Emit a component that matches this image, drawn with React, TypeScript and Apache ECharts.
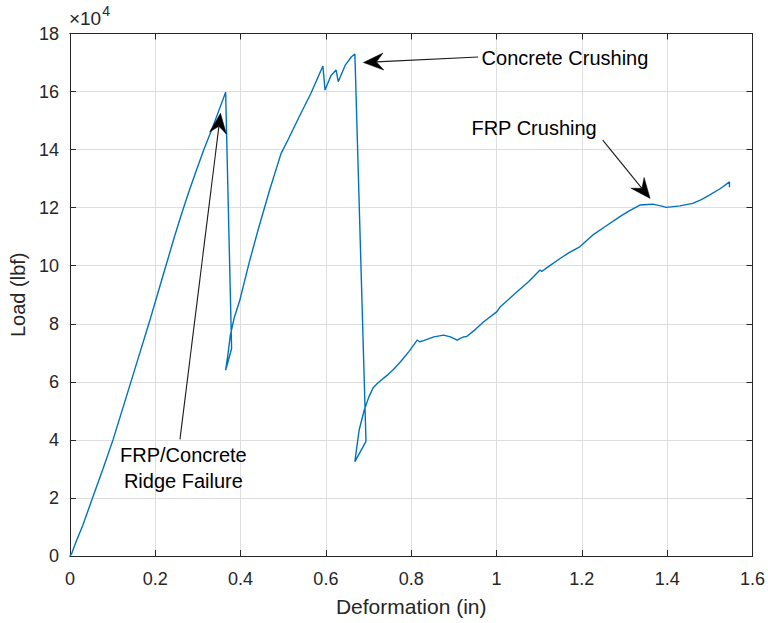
import React, { useEffect, useRef } from "react";
import * as echarts from "echarts";

// Load–deformation record of the specimen
const deformation = [
  0, 0.004, 0.013, 0.03, 0.054, 0.078, 0.101, 0.122, 0.143, 0.165, 0.186, 0.206, 0.226, 0.245,
  0.262, 0.28, 0.298, 0.314, 0.33, 0.348, 0.365,
  0.379, 0.365, 0.37, 0.376, 0.385, 0.398, 0.42, 0.441, 0.468, 0.495, 0.511, 0.538, 0.565,
  0.593, 0.598, 0.612, 0.624, 0.629, 0.645, 0.66, 0.668,
  0.694, 0.668, 0.672, 0.678, 0.69, 0.701, 0.711, 0.721, 0.744, 0.76, 0.775, 0.795, 0.814,
  0.82, 0.829, 0.853, 0.876, 0.892, 0.908, 0.915, 0.923, 0.93, 0.95, 0.97, 1.001, 1.009,
  1.048, 1.075, 1.095, 1.102, 1.106, 1.12, 1.149, 1.17, 1.195, 1.226, 1.255, 1.289, 1.31,
  1.336, 1.366, 1.385, 1.398, 1.43, 1.46, 1.48, 1.499, 1.525, 1.546, 1.546,
];
const loadLbf = [
  0, 800, 4400, 10500, 20400, 30200, 40000, 50000, 60000, 70500, 80500, 90500, 100500, 110000,
  118000, 126000, 133500, 140000, 146000, 153000, 159800,
  71500, 64000, 69000, 76000, 82000, 88000, 101000, 112300, 126000, 138700, 143300, 151500, 159400,
  168800, 160500, 165500, 167400, 163400, 169000, 172000, 172900,
  39500, 32500, 37000, 43400, 50300, 54900, 58000, 59500, 62300, 64500, 66900, 70500, 74400,
  73800, 74200, 75500, 76100, 75500, 74400, 75000, 75500, 75600, 78000, 80700, 84200, 85900,
  91000, 94500, 97500, 98500, 98000, 99500, 102500, 104500, 106500, 110600, 113500, 116900, 118800,
  120900, 121200, 120600, 120100, 120600, 121500, 122800, 124300, 126600, 128900, 127000,
];

const xTicks = { min: 0, max: 1.6, interval: 0.2 };
const yTicks = { min: 0, max: 180000, interval: 20000 };

// Callouts: text anchor, arrow tail and arrow tip, all in data units
const callouts = [
  {
    text: "Concrete Crushing",
    at: [0.965, 171500],
    align: "left",
    tail: [0.957, 171900],
    tip: [0.688, 170000],
  },
  {
    text: "FRP Crushing",
    at: [1.088, 147400],
    align: "center",
    tail: [1.249, 143300],
    tip: [1.36, 123200],
  },
  {
    text: "FRP/Concrete\nRidge Failure",
    at: [0.266, 30300],
    align: "center",
    tail: [0.258, 40200],
    tip: [0.353, 152500],
  },
];

const FONT = "'Liberation Sans', Arial, Helvetica, sans-serif";
const AXIS_COLOR = "#262626";
const LINE_COLOR = "#0072BD";

export default function App() {
  const ref = useRef<HTMLDivElement>(null);

  useEffect(() => {
    if (!ref.current) return;
    const chart = echarts.init(ref.current, undefined, { renderer: "svg" });
    const points = deformation.map((d, i) => [d, loadLbf[i]]);

    const fmtX = (v: number) => String(Math.round(v * 10) / 10);
    const fmtY = (v: number) => String(Math.round(v / 10000));

    const baseX = {
      type: "value",
      ...xTicks,
      axisLine: { show: true, onZero: false, lineStyle: { color: AXIS_COLOR, width: 1 } },
      axisTick: { show: true, inside: true, length: 6, lineStyle: { color: AXIS_COLOR } },
    };
    const baseY = {
      type: "value",
      ...yTicks,
      axisLine: { show: true, onZero: false, lineStyle: { color: AXIS_COLOR, width: 1 } },
      axisTick: { show: true, inside: true, length: 6, lineStyle: { color: AXIS_COLOR } },
    };

    chart.setOption({
      animation: false,
      backgroundColor: "#ffffff",
      textStyle: { fontFamily: FONT },
      grid: { left: 67.7, right: 15.5, top: 33.5, bottom: 67, containLabel: false },
      xAxis: [
        {
          ...baseX,
          position: "bottom",
          name: "Deformation (in)",
          nameLocation: "middle",
          nameGap: 40,
          nameTextStyle: { color: AXIS_COLOR, fontSize: 21, fontFamily: FONT },
          axisLabel: { color: AXIS_COLOR, fontSize: 18, margin: 14, formatter: fmtX, fontFamily: FONT },
          splitLine: { show: true, lineStyle: { color: "#dedede", width: 1 } },
        },
        {
          ...baseX,
          position: "top",
          axisLabel: { show: false },
          splitLine: { show: false },
        },
      ],
      yAxis: [
        {
          ...baseY,
          position: "left",
          name: "Load (lbf)",
          nameLocation: "middle",
          nameGap: 40,
          nameTextStyle: { color: AXIS_COLOR, fontSize: 20, fontFamily: FONT },
          axisLabel: { color: AXIS_COLOR, fontSize: 18, margin: 11, formatter: fmtY, fontFamily: FONT },
          splitLine: { show: true, lineStyle: { color: "#dedede", width: 1 } },
        },
        {
          ...baseY,
          position: "right",
          axisLabel: { show: false },
          splitLine: { show: false },
        },
      ],
      series: [
        {
          type: "line",
          data: points,
          showSymbol: false,
          symbol: "none",
          lineStyle: { color: LINE_COLOR, width: 1.4 },
          xAxisIndex: 0,
          yAxisIndex: 0,
        },
      ],
    });

    // Callout arrows and texts, placed through the grid's coordinate system
    const toPx = (p: number[]) => chart.convertToPixel({ gridIndex: 0 }, p) as number[];
    const elements: any[] = [];
    callouts.forEach((c) => {
      const tail = toPx(c.tail);
      const tip = toPx(c.tip);
      const dx = tip[0] - tail[0];
      const dy = tip[1] - tail[1];
      const len = Math.hypot(dx, dy);
      const ux = dx / len;
      const uy = dy / len;
      const nx = -uy;
      const ny = ux;
      const L = 20;
      const W = 8.5;
      const notch = 13;
      const back = [tip[0] - ux * L, tip[1] - uy * L];
      const inner = [tip[0] - ux * notch, tip[1] - uy * notch];
      elements.push({
        type: "line",
        shape: { x1: tail[0], y1: tail[1], x2: inner[0], y2: inner[1] },
        style: { stroke: "#1a1a1a", lineWidth: 1.1 },
        z: 10,
      });
      elements.push({
        type: "polygon",
        shape: {
          points: [
            tip,
            [back[0] + nx * W, back[1] + ny * W],
            inner,
            [back[0] - nx * W, back[1] - ny * W],
          ],
        },
        style: { fill: "#000000", stroke: "#000000", lineWidth: 0.5 },
        z: 10,
      });
      const at = toPx(c.at);
      elements.push({
        type: "text",
        x: at[0],
        y: at[1],
        style: {
          text: c.text,
          fill: "#000000",
          font: `20px ${FONT}`,
          align: c.align,
          verticalAlign: "middle",
          lineHeight: 26,
        },
        z: 11,
      });
    });

    // Exponent marker of the load axis
    const corner = toPx([xTicks.min, yTicks.max]);
    elements.push({
      type: "text",
      x: corner[0] - 1,
      y: corner[1] - 6,
      style: {
        text: "{a|×10}{b|4}",
        verticalAlign: "bottom",
        align: "left",
        rich: {
          a: { fontSize: 19, fill: AXIS_COLOR, fontFamily: FONT, verticalAlign: "bottom" },
          b: { fontSize: 14, fill: AXIS_COLOR, fontFamily: FONT, verticalAlign: "top", padding: [0, 0, 10, 1] },
        },
      },
      z: 11,
    });

    chart.setOption({ graphic: { elements } });

    return () => chart.dispose();
  }, []);

  return (
    <div
      ref={ref}
      style={{ position: "fixed", left: 0, top: 0, width: "768px", height: "623px", background: "#fff" }}
    />
  );
}
